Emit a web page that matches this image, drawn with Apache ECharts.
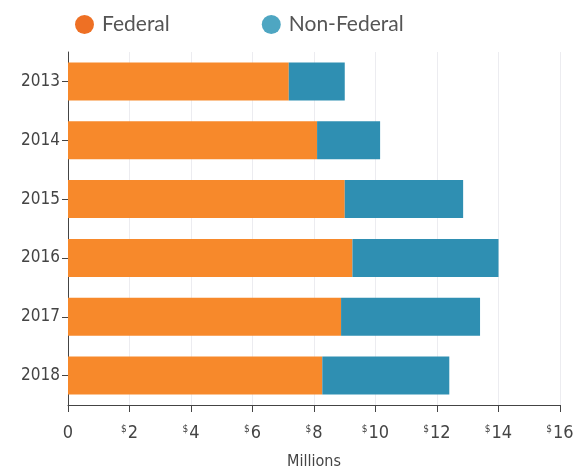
<!DOCTYPE html>
<html><head><meta charset="utf-8">
<script src="https://cdn.jsdelivr.net/npm/echarts@6/dist/echarts.min.js"></script>
<style>html,body{margin:0;padding:0;background:#fff}#c{width:577px;height:466px}</style>
</head><body><div id="c"></div>
<script>
const years = ['2013','2014','2015','2016','2017','2018'];
const federal = [7.18, 8.1, 9.0, 9.25, 8.88, 8.27];
const nonFederal = [1.82, 2.05, 3.85, 4.75, 4.52, 4.13];
const xTicks = [0, 2, 4, 6, 8, 10, 12, 14, 16];

const condensed = '"Liberation Sans Narrow", "DejaVu Sans Condensed", sans-serif';
const chart = echarts.init(document.getElementById('c'));
chart.setOption({
  animation: false,
  backgroundColor: '#fff',
  legend: {
    top: 9, left: 70, itemGap: 92, icon: 'circle', itemWidth: 19, itemHeight: 19,
    textStyle: { fontFamily: 'Lato, sans-serif', fontSize: 21, color: '#555', padding: [0,0,0,3] },
    data: [
      { name: 'Federal', itemStyle: { color: '#ee7024' } },
      { name: 'Non-Federal', itemStyle: { color: '#4ea6c2' } }
    ]
  },
  grid: { left: 68, right: 17, top: 52, bottom: 61, containLabel: false, outerBoundsMode: 'none' },
  xAxis: {
    type: 'value', min: xTicks[0], max: xTicks[xTicks.length-1], interval: 2,
    name: 'Millions', nameLocation: 'middle', nameGap: 49,
    nameTextStyle: { fontFamily: condensed, fontSize: 16, color: '#444' },
    axisLine: { show: true, lineStyle: { color: '#444', width: 1 } },
    axisTick: { show: true, length: 7, lineStyle: { color: '#444' } },
    splitLine: { show: true, lineStyle: { color: '#ececf0', width: 1 } },
    axisLabel: {
      margin: 19,
      formatter: v => v === 0 ? '{n|0}' : '{s|$}{n|' + v + '}',
      rich: {
        n: { fontFamily: condensed, fontSize: 18, color: '#444' },
        s: { fontFamily: condensed, fontSize: 10, color: '#444', verticalAlign: 'top', padding: [0,1,7,0] }
      }
    }
  },
  yAxis: {
    type: 'category', data: years, inverse: true,
    axisLine: { show: true, lineStyle: { color: '#444', width: 1 } },
    axisTick: { show: true, alignWithLabel: true, length: 6, lineStyle: { color: '#444' } },
    axisLabel: { fontFamily: condensed, fontSize: 17, color: '#444', margin: 8 }
  },
  series: [
    { name: 'Federal', type: 'bar', stack: 't', data: federal, barWidth: 38,
      itemStyle: { color: '#f7892b' } },
    { name: 'Non-Federal', type: 'bar', stack: 't', data: nonFederal, barWidth: 38,
      itemStyle: { color: '#2f8fb2' } }
  ]
});
</script>
</body></html>
